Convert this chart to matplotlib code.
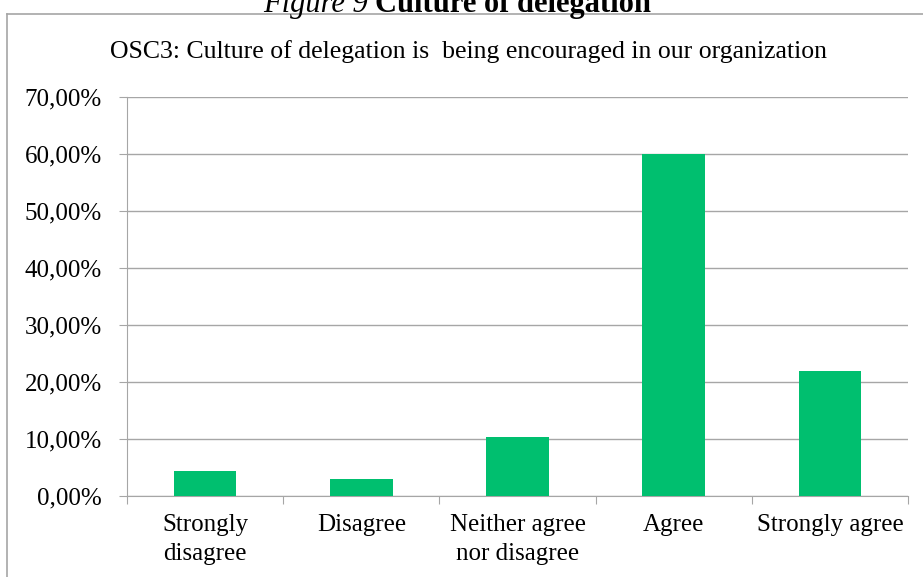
import matplotlib.pyplot as plt
from matplotlib.ticker import FuncFormatter
from matplotlib.lines import Line2D

categories = ['Strongly\ndisagree', 'Disagree', 'Neither agree\nnor disagree', 'Agree', 'Strongly agree']
values = [4.3, 3.0, 10.4, 60.0, 22.0]
y_ticks = [0, 10, 20, 30, 40, 50, 60, 70]

plt.rcParams['font.family'] = ['Liberation Serif', 'DejaVu Serif']

fig = plt.figure(figsize=(9.23, 5.77), dpi=100)
ax = fig.add_axes([127 / 923, 1 - 496 / 577, 781 / 923, 399 / 577])

bar_color = '#00BF6F'
x = range(len(values))
ax.bar(x, values, width=0.4, color=bar_color, zorder=3)

ax.set_xlim(-0.5, len(values) - 0.5)
ax.set_ylim(0, 70)
ax.set_yticks(y_ticks)
ax.yaxis.set_major_formatter(FuncFormatter(lambda v, p: f'{v:.2f}%'.replace('.', ',')))
ax.grid(axis='y', color='#A6A6A6', linewidth=1, zorder=0)

# category labels between boundary ticks
ax.set_xticks([i - 0.5 for i in range(len(values) + 1)])
ax.set_xticklabels([])
ax.set_xticks(list(x), minor=True)
ax.set_xticklabels(categories, minor=True, fontsize=18, linespacing=1.4)
ax.tick_params(axis='x', which='minor', length=0, pad=13)
ax.tick_params(axis='x', which='major', length=6, color='#A6A6A6')
ax.tick_params(axis='y', length=6, color='#A6A6A6', labelsize=18, pad=12)

for side in ['top', 'right']:
    ax.spines[side].set_visible(False)
for side in ['left', 'bottom']:
    ax.spines[side].set_color('#A6A6A6')

fig.text(0.508, 1 - 52 / 577, 'OSC3: Culture of delegation is  being encouraged in our organization',
         ha='center', va='center', fontsize=18.5)

# outer chart frame (cut off at right / bottom)
fig.add_artist(Line2D([7 / 923, 7 / 923], [0, 1 - 14 / 577], color='#A6A6A6', lw=1.2))
fig.add_artist(Line2D([7 / 923, 1], [1 - 14 / 577, 1 - 14 / 577], color='#A6A6A6', lw=1.2))

# figure caption, mostly cut off at the top
fig.text(368 / 923, 1 - 12 / 577, 'Figure 9', ha='right', va='baseline', fontsize=22,
         fontstyle='italic')
fig.text(375 / 923, 1 - 12 / 577, 'Culture of delegation', ha='left', va='baseline',
         fontsize=22, fontweight='bold')

fig.savefig('out.png', dpi=100)
